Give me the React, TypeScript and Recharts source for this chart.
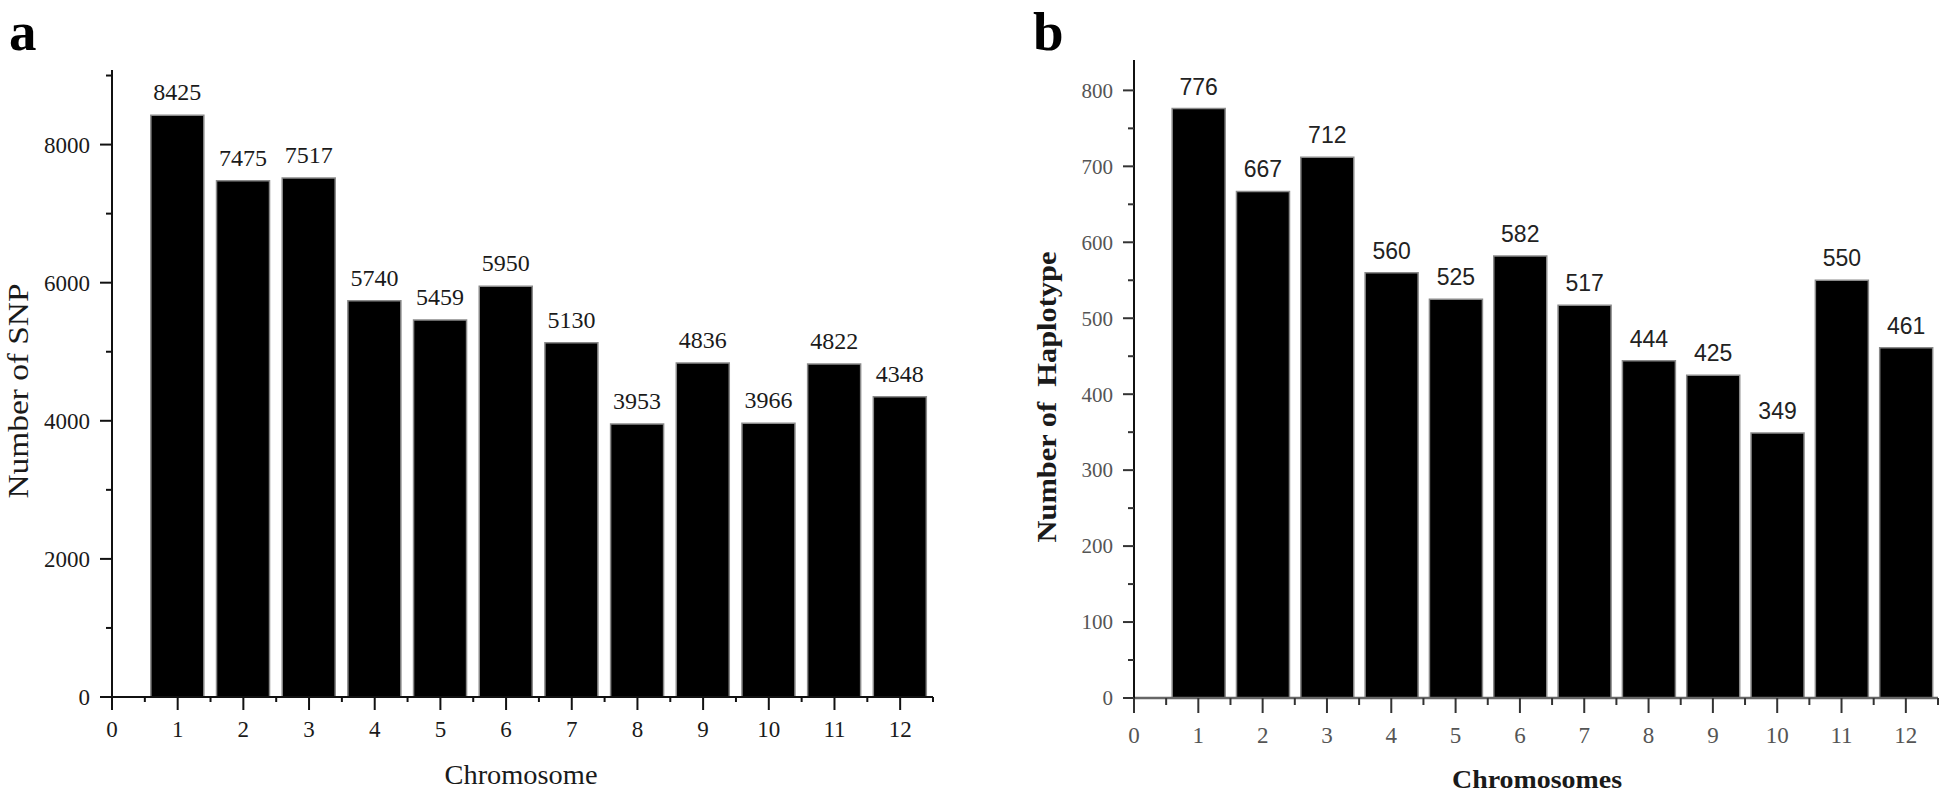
import React from 'react';
import { BarChart, Bar, XAxis, YAxis } from 'recharts';

const chromosomes = [1, 2, 3, 4, 5, 6, 7, 8, 9, 10, 11, 12];
const snpCounts = [8425, 7475, 7517, 5740, 5459, 5950, 5130, 3953, 4836, 3966, 4822, 4348];
const haplotypeCounts = [776, 667, 712, 560, 525, 582, 517, 444, 425, 349, 550, 461];

const xTicks = [0, 0.5, 1, 1.5, 2, 2.5, 3, 3.5, 4, 4.5, 5, 5.5, 6, 6.5, 7, 7.5, 8, 8.5, 9, 9.5, 10, 10.5, 11, 11.5, 12, 12.5];
const snpTicks = [0, 1000, 2000, 3000, 4000, 5000, 6000, 7000, 8000, 9000];
const haploTicks = [0, 50, 100, 150, 200, 250, 300, 350, 400, 450, 500, 550, 600, 650, 700, 750, 800];

const SERIF = '"Liberation Serif", "Times New Roman", serif';
const SANS = '"Liberation Sans", Arial, sans-serif';

const snpData = chromosomes.map((c, i) => ({ chromosome: c, value: snpCounts[i] }));
const haploData = chromosomes.map((c, i) => ({ chromosome: c, value: haplotypeCounts[i] }));

interface TickTheme {
  major: number;
  minor: number;
  gap: number;
  color: string;
  tickColor: string;
  fontSize: number;
  labelEvery: number;
}

const XTick = (props: any) => {
  const { x, y, payload, theme } = props;
  const t: TickTheme = theme;
  const v = payload.value;
  const isMajor = v % t.labelEvery === 0;
  return (
    <g>
      <line x1={x} x2={x} y1={y} y2={y + (isMajor ? t.major : t.minor)} stroke={t.tickColor} strokeWidth={2} />
      {isMajor && (
        <text x={x} y={y + t.gap} textAnchor="middle" fontFamily={SERIF} fontSize={t.fontSize} fill={t.color}>
          {v}
        </text>
      )}
    </g>
  );
};

const YTick = (props: any) => {
  const { x, y, payload, theme } = props;
  const t: TickTheme = theme;
  const v = payload.value;
  const isMajor = v % t.labelEvery === 0;
  return (
    <g>
      <line x1={x - (isMajor ? t.major : t.minor)} x2={x} y1={y} y2={y} stroke={t.tickColor} strokeWidth={2} />
      {isMajor && (
        <text x={x - t.gap} y={y} dy="0.35em" textAnchor="end" fontFamily={SERIF} fontSize={t.fontSize} fill={t.color}>
          {v}
        </text>
      )}
    </g>
  );
};

const aX: TickTheme = { major: 13, minor: 5, gap: 40, color: '#1a1a1a', tickColor: '#111', fontSize: 23, labelEvery: 1 };
const aY: TickTheme = { major: 12, minor: 6, gap: 22, color: '#1a1a1a', tickColor: '#111', fontSize: 23, labelEvery: 2000 };
const bX: TickTheme = { major: 15, minor: 7, gap: 45, color: '#555', tickColor: '#333', fontSize: 23, labelEvery: 1 };
const bY: TickTheme = { major: 11, minor: 6, gap: 21, color: '#555', tickColor: '#333', fontSize: 21, labelEvery: 100 };

const App: React.FC = () => {
  return (
    <div style={{ position: 'absolute', left: 0, top: 0, width: 1944, height: 797, background: '#fff' }}>
      <div style={{ position: 'absolute', left: 0, top: 0 }}>
        <BarChart width={972} height={797} data={snpData} margin={{ top: 70, right: 39, bottom: 70, left: 52 }}>
          <XAxis
            dataKey="chromosome"
            type="number"
            domain={[0, 12.5]}
            ticks={xTicks}
            interval={0}
            height={30}
            tickSize={0}
            tickMargin={0}
            tickLine={false}
            axisLine={{ stroke: '#111', strokeWidth: 2 }}
            tick={(p: any) => <XTick {...p} theme={aX} />}
            label={() => (
              <text x={521} y={784} textAnchor="middle" fontFamily={SERIF} fontSize={27} fill="#1a1a1a" textLength={153} lengthAdjust="spacingAndGlyphs">
                Chromosome
              </text>
            )}
          />
          <YAxis
            type="number"
            domain={[0, 9080]}
            ticks={snpTicks}
            interval={0}
            width={60}
            tickSize={0}
            tickMargin={0}
            tickLine={false}
            axisLine={{ stroke: '#111', strokeWidth: 2 }}
            tick={(p: any) => <YTick {...p} theme={aY} />}
            label={() => (
              <text x={28} y={391} transform="rotate(-90 28 391)" textAnchor="middle" fontFamily={SERIF} fontSize={30} fill="#1a1a1a" textLength={215} lengthAdjust="spacingAndGlyphs">
                Number of SNP
              </text>
            )}
          />
          <Bar
            dataKey="value"
            barSize={53}
            fill="#000"
            stroke="#8a8a8a"
            strokeWidth={1.5}
            isAnimationActive={false}
            label={(p: any) => (
              <text x={p.x + p.width / 2} y={p.y - 15} textAnchor="middle" fontFamily={SERIF} fontSize={24} fill="#1a1a1a">
                {p.value}
              </text>
            )}
          />
        </BarChart>
      </div>
      <div style={{ position: 'absolute', left: 972, top: 0 }}>
        <BarChart width={972} height={797} data={haploData} margin={{ top: 60, right: 6, bottom: 69, left: 102 }}>
          <XAxis
            dataKey="chromosome"
            type="number"
            domain={[0, 12.5]}
            ticks={xTicks}
            interval={0}
            height={30}
            tickSize={0}
            tickMargin={0}
            tickLine={false}
            axisLine={{ stroke: '#666', strokeWidth: 2.5 }}
            tick={(p: any) => <XTick {...p} theme={bX} />}
            label={() => (
              <text x={565} y={788} textAnchor="middle" fontFamily={SERIF} fontWeight="bold" fontSize={26} fill="#1a1a1a" textLength={170} lengthAdjust="spacingAndGlyphs">
                Chromosomes
              </text>
            )}
          />
          <YAxis
            type="number"
            domain={[0, 840]}
            ticks={haploTicks}
            interval={0}
            width={60}
            tickSize={0}
            tickMargin={0}
            tickLine={false}
            axisLine={{ stroke: '#111', strokeWidth: 2 }}
            tick={(p: any) => <YTick {...p} theme={bY} />}
            label={() => (
              <text x={84} y={397} transform="rotate(-90 84 397)" textAnchor="middle" fontFamily={SERIF} fontWeight="bold" fontSize={27} fill="#1a1a1a" textLength={291} lengthAdjust="spacingAndGlyphs" style={{ whiteSpace: 'pre' }}>
                {'Number of  Haplotype'}
              </text>
            )}
          />
          <Bar
            dataKey="value"
            barSize={53}
            fill="#000"
            stroke="#8a8a8a"
            strokeWidth={1.5}
            isAnimationActive={false}
            label={(p: any) => (
              <text x={p.x + p.width / 2} y={p.y - 14} textAnchor="middle" fontFamily={SANS} fontSize={23} fill="#222">
                {p.value}
              </text>
            )}
          />
        </BarChart>
      </div>
      <svg width={1944} height={797} style={{ position: 'absolute', left: 0, top: 0, pointerEvents: 'none' }}>
        <text x={9} y={50} fontFamily={SERIF} fontWeight="bold" fontSize={55} fill="#000">a</text>
        <text x={1033} y={50} fontFamily={SERIF} fontWeight="bold" fontSize={55} fill="#000">b</text>
      </svg>
    </div>
  );
};

export default App;
